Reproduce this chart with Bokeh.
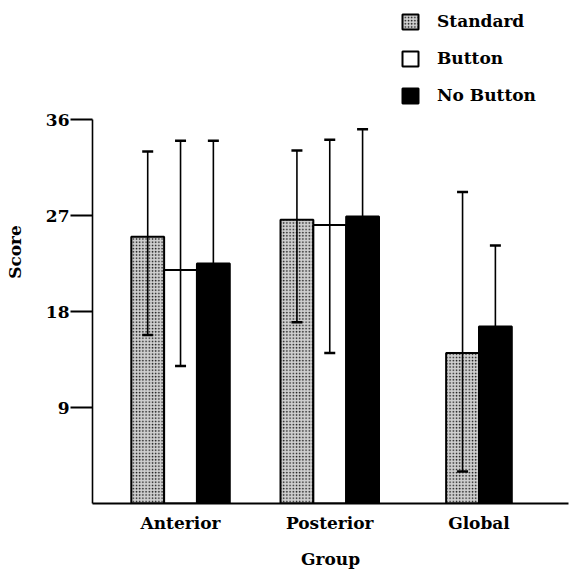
from bokeh.plotting import figure
from bokeh.models import (ColumnDataSource, FixedTicker, Legend, LegendItem,
                          Whisker, TeeHead)
from bokeh.embed import file_html
from bokeh.resources import INLINE

# ---- data ----
groups = ["Anterior", "Posterior", "Global"]
series = ["Standard", "Button", "No Button"]

standard_mean = [25.0, 26.6, 14.1]
standard_low = [15.8, 17.0, 3.0]
standard_high = [33.0, 33.1, 29.2]

button_mean = [21.9, 26.1, None]
button_low = [12.9, 14.1, None]
button_high = [34.0, 34.1, None]

nobutton_mean = [22.5, 26.9, 16.6]
nobutton_low = [11.0, 18.7, 9.0]
nobutton_high = [34.0, 35.1, 24.2]

y_ticks = [9, 18, 27, 36]

means = {"Standard": standard_mean, "Button": button_mean, "No Button": nobutton_mean}
lows = {"Standard": standard_low, "Button": button_low, "No Button": nobutton_low}
highs = {"Standard": standard_high, "Button": button_high, "No Button": nobutton_high}

FONT = "DejaVu Serif"
W = 0.22

p = figure(width=573, height=575, x_range=(-0.59, 2.60), y_range=(0, 47.16),
           output_backend="svg", toolbar_location=None,
           min_border_left=92, min_border_right=5, min_border_top=0,
           min_border_bottom=72)
p.outline_line_color = None
p.xgrid.visible = False
p.ygrid.visible = False
p.background_fill_color = "white"
p.border_fill_color = "white"

# positions computed from the group index and the series present in it
xs = {s: [] for s in series}
tops = {s: [] for s in series}
los = {s: [] for s in series}
his = {s: [] for s in series}
for gi, g in enumerate(groups):
    present = [s for s in series if means[s][gi] is not None]
    n = len(present)
    for k, s in enumerate(present):
        xs[s].append(gi + (k - (n - 1) / 2) * W)
        tops[s].append(means[s][gi])
        los[s].append(lows[s][gi])
        his[s].append(highs[s][gi])

styles = {
    "Standard": dict(fill_color="#cfcfcf", hatch_pattern="dot", hatch_color="#111111",
                     hatch_scale=3.2, hatch_weight=1.8),
    "Button": dict(fill_color="white"),
    "No Button": dict(fill_color="black"),
}

renderers = {}
sources = {}
for s in series:
    src = ColumnDataSource(dict(x=xs[s], top=tops[s], lo=los[s], hi=his[s]))
    sources[s] = src
    renderers[s] = p.vbar(x="x", top="top", bottom=0, width=W, source=src,
                          line_color="black", line_width=2, **styles[s])

for s in series:
    wk = Whisker(base="x", upper="hi", lower="lo", source=sources[s],
                 dimension="height", line_color="black", line_width=1.6,
                 level="overlay",
                 upper_head=TeeHead(size=11, line_width=2.5, line_color="black"),
                 lower_head=TeeHead(size=11, line_width=2.5, line_color="black"))
    p.add_layout(wk)

legend = Legend(items=[LegendItem(label=s, renderers=[renderers[s]]) for s in series],
                location=(308, 398), orientation="vertical",
                glyph_width=20, glyph_height=19, label_standoff=17, spacing=17,
                padding=0, margin=0, border_line_color=None,
                background_fill_alpha=0,
                label_text_font=FONT, label_text_font_style="bold",
                label_text_font_size="17px", label_text_color="black")
p.add_layout(legend)

# axes
xa = p.xaxis[0]
xa.ticker = FixedTicker(ticks=list(range(len(groups))))
xa.major_label_overrides = {i: g for i, g in enumerate(groups)}
xa.major_tick_out = 0
xa.major_tick_in = 0
xa.minor_tick_out = 0
xa.minor_tick_in = 0
xa.axis_line_width = 2
xa.major_label_standoff = 9
xa.axis_label = "Group"
xa.axis_label_standoff = 13

ya = p.yaxis[0]
ya.ticker = FixedTicker(ticks=y_ticks)
ya.bounds = (0, 36)
ya.major_tick_out = 22
ya.major_tick_in = 0
ya.major_tick_line_width = 2
ya.minor_tick_out = 0
ya.minor_tick_in = 0
ya.axis_line_width = 1.6
ya.major_label_standoff = 1
ya.axis_label = "Score"
ya.axis_label_standoff = 18

for ax in (xa, ya):
    ax.major_label_text_font = FONT
    ax.major_label_text_font_style = "bold"
    ax.major_label_text_font_size = "17px"
    ax.major_label_text_color = "black"
    ax.axis_label_text_font = FONT
    ax.axis_label_text_font_style = "bold"
    ax.axis_label_text_font_size = "17px"
    ax.axis_label_text_color = "black"
    ax.axis_line_color = "black"

open("out.html", "w").write(file_html(p, INLINE))
